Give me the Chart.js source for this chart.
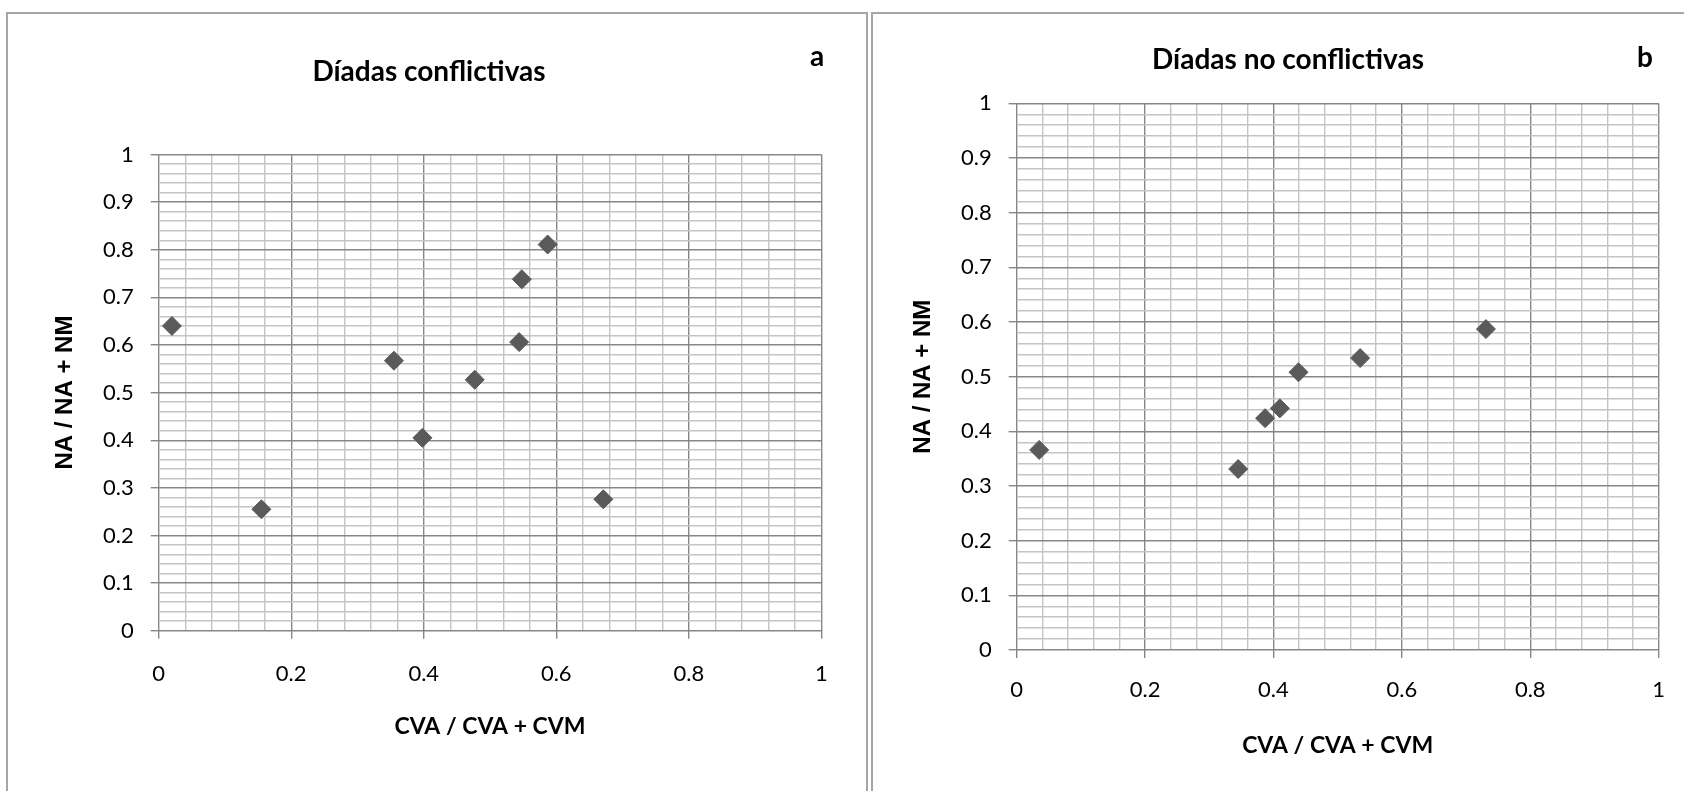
<!DOCTYPE html>
<html>
<head>
<meta charset="utf-8">
<script src="https://cdn.jsdelivr.net/npm/chart.js@4"></script>
<style>
  html, body { margin: 0; padding: 0; background: #fff; overflow: hidden; }
  body { width: 1684px; height: 791px; position: relative; }
  .panel { position: absolute; border: 2px solid #a6a6a6; box-sizing: border-box; }
  #boxA { left: 6px; top: 12px; width: 862px; height: 820px; }
  #boxB { left: 871px; top: 12px; width: 830px; height: 820px; }
  canvas { position: absolute; }
  #chartA { left: 7px; top: 15px; }
  #chartB { left: 873px; top: 15px; }
</style>
</head>
<body>
<div class="panel" id="boxA"></div>
<div class="panel" id="boxB"></div>
<canvas id="chartA" width="858" height="776"></canvas>
<canvas id="chartB" width="811" height="776"></canvas>
<script>
// --- data ---
const conflictX = [0.020, 0.155, 0.355, 0.398, 0.477, 0.544, 0.548, 0.587, 0.671];
const conflictY = [0.640, 0.255, 0.567, 0.405, 0.527, 0.606, 0.738, 0.811, 0.276];

const noConflictX = [0.035, 0.345, 0.387, 0.410, 0.439, 0.535, 0.731];
const noConflictY = [0.366, 0.331, 0.424, 0.442, 0.508, 0.534, 0.587];

const xMajorTicks = [0, 0.2, 0.4, 0.6, 0.8, 1];
const yMajorTicks = [0, 0.1, 0.2, 0.3, 0.4, 0.5, 0.6, 0.7, 0.8, 0.9, 1];

const MAJOR = "#878787";
const MINOR = "#c4c4c4";
const MARKER = "#5a5a5a";

function isMajor(v, list) {
  return list.some(t => Math.abs(t - v) < 1e-6);
}

// small plugin for the "a" / "b" corner letter
const cornerLetter = {
  id: "cornerLetter",
  afterDraw(chart, args, opts) {
    const ctx = chart.ctx;
    ctx.save();
    ctx.font = "bold 28px Lato";
    ctx.fillStyle = "#000";
    ctx.textAlign = "center";
    ctx.textBaseline = "alphabetic";
    ctx.fillText(opts.text, opts.x, opts.y);
    ctx.restore();
  }
};

function makeChart(id, title, xs, ys, cfg) {
  const points = xs.map((x, i) => ({ x: x, y: ys[i] }));
  return new Chart(document.getElementById(id), {
    type: "scatter",
    data: {
      datasets: [{
        data: points,
        pointStyle: "rectRot",
        pointRadius: 9.5,
        pointHoverRadius: 9.5,
        backgroundColor: MARKER,
        borderColor: MARKER,
        borderWidth: 1
      }]
    },
    options: {
      responsive: false,
      animation: false,
      layout: { padding: { left: cfg.padLeft, right: cfg.padRight, top: 0, bottom: 0 } },
      plugins: {
        legend: { display: false },
        tooltip: { enabled: false },
        title: {
          display: true,
          text: title,
          color: "#000",
          font: { family: "Lato", size: 28, weight: "bold", lineHeight: 1.2 },
          padding: { top: cfg.titleTop, bottom: cfg.titleBottom }
        },
        cornerLetter: cfg.letter
      },
      scales: {
        x: {
          type: "linear",
          min: 0, max: 1,
          afterFit: s => { s.height = cfg.xHeight; },
          border: { display: false },
          grid: {
            drawTicks: true,
            tickLength: 8,
            color: c => isMajor(c.tick.value, xMajorTicks) ? MAJOR : MINOR,
            tickColor: c => isMajor(c.tick.value, xMajorTicks) ? MAJOR : "rgba(0,0,0,0)",
            lineWidth: 1.4,
            tickWidth: 1.4
          },
          ticks: {
            stepSize: 0.04,
            autoSkip: false,
            maxRotation: 0,
            minRotation: 0,
            padding: cfg.xTickPad,
            color: "#000",
            font: { family: "Lato", size: 22 },
            callback: v => isMajor(v, xMajorTicks) ? String(Math.round(v * 10) / 10) : ""
          },
          title: {
            display: true,
            text: "CVA / CVA + CVM",
            color: "#000",
            font: { family: "Lato", size: 23, weight: "bold", lineHeight: 1.2 },
            padding: { top: 0, bottom: cfg.xTitleBottom }
          }
        },
        y: {
          type: "linear",
          min: 0, max: 1,
          afterFit: s => { s.width = cfg.yWidth; },
          border: { display: false },
          grid: {
            drawTicks: true,
            tickLength: 8,
            color: c => isMajor(c.tick.value, yMajorTicks) ? MAJOR : MINOR,
            tickColor: c => isMajor(c.tick.value, yMajorTicks) ? MAJOR : "rgba(0,0,0,0)",
            lineWidth: 1.4,
            tickWidth: 1.4
          },
          ticks: {
            stepSize: 0.02,
            autoSkip: false,
            padding: 17,
            color: "#000",
            font: { family: "Lato", size: 22 },
            callback: v => isMajor(v, yMajorTicks) ? String(Math.round(v * 10) / 10) : ""
          },
          title: {
            display: true,
            text: "NA / NA + NM",
            color: "#000",
            font: { family: "Liberation Sans", size: 24, weight: "bold", lineHeight: 0.8 },
            padding: { top: cfg.yTitleTop, bottom: 0 }
          }
        }
      }
    },
    plugins: [cornerLetter]
  });
}

makeChart("chartA", "Díadas conflictivas", conflictX, conflictY, {
  padLeft: 29.7, padRight: 43.7,
  titleTop: 40.2, titleBottom: 65.7,
  xHeight: 160.3, xTickPad: 22, xTitleBottom: 50.7,
  yWidth: 122, yTitleTop: 19,
  letter: { text: "a", x: 810, y: 51 }
});

makeChart("chartB", "Díadas no conflictivas", noConflictX, noConflictY, {
  padLeft: 40, padRight: 21,
  titleTop: 27.7, titleBottom: 27,
  xHeight: 141, xTickPad: 19, xTitleBottom: 31.2,
  yWidth: 103.7, yTitleTop: 0.4,
  letter: { text: "b", x: 772, y: 51.7 }
});
</script>
</body>
</html>
